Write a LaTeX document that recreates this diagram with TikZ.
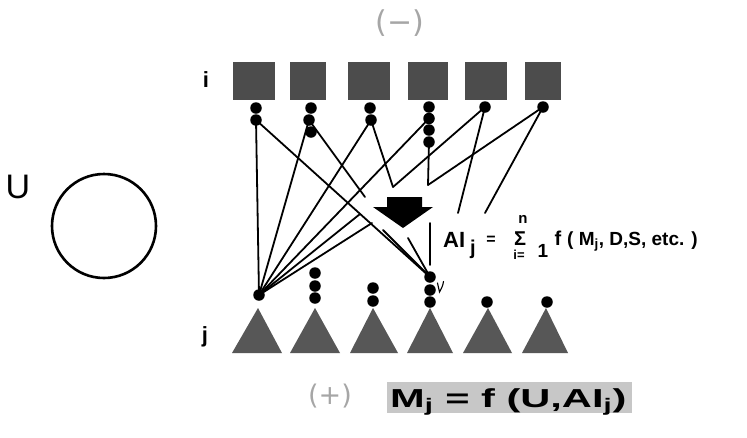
\documentclass[tikz,border=0pt]{standalone}
\usepackage{fontspec}
\setmainfont{Liberation Sans}
\newfontfamily\dejavu{DejaVu Sans}
\newcommand\myfs[1]{\fontsize{#1}{#1}\selectfont\bfseries}
\begin{document}
\begin{tikzpicture}[x=1pt,y=-1pt,
  sqbox/.style={fill=black!70, draw=none, inner sep=0pt, minimum width=#1, minimum height=38pt},
  trishape/.style={fill=black!66},
  dotn/.style={circle, fill=black, inner sep=0pt, minimum size=11.5pt},
  conn/.style={draw=black, line width=1.8pt, line cap=round},
  lbl/.style={inner sep=0pt, text=black},
  faded/.style={inner sep=0pt, text=black!35, font=\dejavu\fontsize{30}{30}\selectfont}]
\useasboundingbox (0,0) rectangle (747,437);
\fill[white] (0,0) rectangle (747,437);

% universe circle
\node[lbl, font=\fontsize{34}{34}\selectfont] (U) at (18,187) {U};
\node[circle, draw=black, line width=2.6pt, minimum size=104pt, inner sep=0pt] (circ) at (104,226) {};

% labels
\node[faded] (top) at (400,23) {(−)};
\node[faded, font=\dejavu\fontsize{27}{27}\selectfont] (bot) at (330,396) {(+)};
\node[lbl, font=\myfs{22}] (li) at (206,80) {i};
\node[lbl, font=\myfs{22}] (lj) at (205,337) {j};

% squares
\node[sqbox=42pt] (sq1) at (254,81) {};
\node[sqbox=36pt] (sq2) at (308,81) {};
\node[sqbox=42pt] (sq3) at (369,81) {};
\node[sqbox=40pt] (sq4) at (428,81) {};
\node[sqbox=42pt] (sq5) at (486,81) {};
\node[sqbox=36pt] (sq6) at (543,81) {};

% triangles
\fill[trishape] (232,353) -- (258,308) -- (282,353) -- cycle;
\fill[trishape] (290,353) -- (315,308) -- (340,353) -- cycle;
\fill[trishape] (350,353) -- (373,308) -- (398,353) -- cycle;
\fill[trishape] (407,353) -- (430,308) -- (453,353) -- cycle;
\fill[trishape] (463,353) -- (488,308) -- (512,353) -- cycle;
\fill[trishape] (522,353) -- (546,308) -- (568,353) -- cycle;

% dots under squares
\node[dotn] (a1) at (256,108) {};
\node[dotn] (a2) at (256,120) {};
\node[dotn] (b1) at (311,108) {};
\node[dotn] (b2) at (309,120) {};
\node[dotn] (b3) at (311,132) {};
\node[dotn] (c1) at (370,108) {};
\node[dotn] (c2) at (371,120) {};
\node[dotn] (d1) at (429,107) {};
\node[dotn] (d2) at (429,118.5) {};
\node[dotn] (d3) at (429,130) {};
\node[dotn] (d4) at (429,142) {};
\node[dotn] (e1) at (485,107) {};
\node[dotn] (f1) at (543,107) {};

% dots above triangles
\node[dotn] (p1) at (259,295) {};
\node[dotn] (q1) at (315,273) {};
\node[dotn] (q2) at (315,286) {};
\node[dotn] (q3) at (315,298) {};
\node[dotn] (r1) at (373,288) {};
\node[dotn] (r2) at (373,301) {};
\node[dotn] (s1) at (430,277) {};
\node[dotn] (s2) at (430,290) {};
\node[dotn] (s3) at (430,302) {};
\node[dotn] (u1) at (487,302) {};
\node[dotn] (w1) at (547,302) {};

% free ends
\coordinate (m1) at (365,197);
\coordinate (va) at (393,187);
\coordinate (vb) at (428,185);
\coordinate (n1) at (458,213);
\coordinate (n2) at (485,213);
\coordinate (o1) at (360,214);
\coordinate (o2) at (372,223);
\coordinate (o3) at (383,230);
\coordinate (o4) at (408,238);
\coordinate (o5) at (430,223);
\coordinate (o6) at (430,265);

% connectors to j=1
\draw[conn] (a2.center) -- (p1.center);
\draw[conn] (b2.center) -- (p1.center);
\draw[conn] (c2.center) -- (p1.center);
\draw[conn] (d2.center) -- (p1.center);
\draw[conn] (o1) -- (p1.center);
\draw[conn] (o2) -- (p1.center);
% connectors to j=4
\draw[conn] (a2.center) -- (s1.center);
\draw[conn] (o3) -- (s1.center);
\draw[conn] (o4) -- (s1.center);
\draw[conn] (o5) -- (o6);
% connectors into the arrow
\draw[conn] (b2.center) -- (m1);
\draw[conn] (c2.center) -- (va);
\draw[conn] (e1.center) -- (va);
\draw[conn] (d4.center) -- (vb);
\draw[conn] (f1.center) -- (vb);
\draw[conn] (e1.center) -- (n1);
\draw[conn] (f1.center) -- (n2);

% small mark
\draw[line width=1.1pt, line cap=round] (437.5,283) -- (439.5,292) .. controls (441,289) and (443,286) .. (443.5,281.5);

% big arrow
\fill[black] (387,197) -- (422,197) -- (422,207) -- (433,207) -- (403,228) -- (373,207) -- (387,207) -- cycle;

% formula AI
\node[lbl, anchor=base west, font=\myfs{22}] (ai) at (443,247) {AI};
\node[lbl, anchor=base west, font=\myfs{20}] (aij) at (470,254) {j};
\node[lbl, font=\myfs{16}] (aeq) at (491,240) {=};
\node[lbl, font=\myfs{15}] (sn) at (523,219) {n};
\node[lbl, font=\myfs{20}] (sig) at (520,239) {Σ};
\node[lbl, font=\myfs{13}] (si) at (519,255) {i=};
\node[lbl, font=\myfs{19}] (sone) at (543,251) {1};
\node[lbl, font=\myfs{20}] (sf) at (558,238) {f};
\node[lbl, anchor=base west, font=\myfs{19}] (args) at (567,245) {( M\textsubscript{j}, D,S, etc. )};

% M formula box
\node[fill=black!22, inner sep=0pt, minimum width=245pt, minimum height=31pt] (mbox) at (509.5,397.5) {};
\node[lbl, anchor=base west, font=\myfs{26}] (mtext) at (390,407) {\scalebox{1.6}[1]{M\textsubscript{j} = f (U,AI\textsubscript{j})}};
\end{tikzpicture}
\end{document}
